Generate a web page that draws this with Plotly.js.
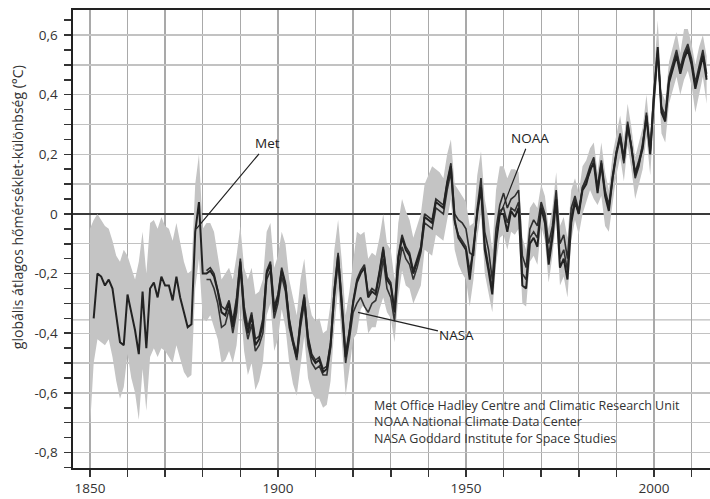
<!DOCTYPE html>
<html>
<head>
<meta charset="utf-8">
<script src="https://cdn.plot.ly/plotly-3.0.1.min.js"></script>
<style>html,body{margin:0;padding:0;background:#fff;}#chart{width:710px;height:499px;}</style>
</head>
<body>
<div id="chart"></div>
<script>
// ---- data ----
const bandStartYear = 1850;
const bandLower = [-0.72,-0.50,-0.42,-0.43,-0.44,-0.42,-0.48,-0.56,-0.62,-0.58,
 -0.47,-0.55,-0.60,-0.69,-0.52,-0.66,-0.48,-0.45,-0.48,-0.45,
 -0.46,-0.48,-0.50,-0.44,-0.49,-0.53,-0.55,-0.54,-0.25,-0.15,
 -0.35,-0.36,-0.34,-0.38,-0.42,-0.50,-0.49,-0.46,-0.50,-0.44,
 -0.30,-0.46,-0.54,-0.50,-0.59,-0.56,-0.50,-0.34,-0.30,-0.46,
 -0.42,-0.32,-0.38,-0.50,-0.57,-0.61,-0.50,-0.41,-0.55,-0.60,
 -0.62,-0.62,-0.65,-0.64,-0.56,-0.38,-0.25,-0.42,-0.61,-0.52,
 -0.42,-0.40,-0.32,-0.30,-0.40,-0.38,-0.38,-0.32,-0.28,-0.33,
 -0.35,-0.43,-0.28,-0.19,-0.24,-0.25,-0.30,-0.27,-0.24,-0.12,
 -0.13,-0.14,-0.07,-0.08,-0.09,-0.02,0.05,-0.12,-0.17,-0.20,
 -0.22,-0.31,-0.22,-0.08,0.00,-0.20,-0.27,-0.33,-0.17,-0.08,
 -0.07,-0.12,-0.06,-0.07,-0.05,-0.30,-0.31,-0.16,-0.14,-0.17,
 -0.04,-0.09,-0.23,-0.14,-0.02,-0.24,-0.21,-0.28,-0.09,-0.02,
 -0.07,0.00,0.04,0.08,0.05,0.03,0.06,-0.04,-0.06,0.03,
 0.13,0.19,0.11,0.23,0.15,0.05,0.10,0.15,0.26,0.13,
 0.33,0.49,0.27,0.24,0.37,0.42,0.46,0.40,0.45,0.48,
 0.43,0.34,0.40,0.46,0.37];
const bandUpper = [-0.05,-0.02,0.00,-0.02,-0.04,-0.05,-0.09,-0.14,-0.16,-0.12,
 -0.14,-0.18,-0.22,-0.16,-0.06,-0.20,-0.03,-0.02,-0.05,-0.01,
 -0.04,-0.05,-0.09,-0.03,-0.10,-0.16,-0.20,-0.19,0.10,0.20,
 -0.05,-0.03,-0.03,-0.06,-0.14,-0.22,-0.20,-0.18,-0.22,-0.14,
 -0.04,-0.18,-0.22,-0.18,-0.27,-0.26,-0.22,-0.06,-0.03,-0.18,
 -0.14,-0.06,-0.10,-0.22,-0.28,-0.34,-0.22,-0.15,-0.28,-0.34,
 -0.36,-0.35,-0.40,-0.39,-0.30,-0.12,-0.02,-0.16,-0.34,-0.26,
 -0.16,-0.06,-0.07,-0.06,-0.15,-0.13,-0.14,-0.08,0.00,-0.10,
 -0.12,-0.22,-0.03,0.05,0.01,-0.02,-0.08,-0.04,0.00,0.10,
 0.13,0.16,0.15,0.14,0.12,0.20,0.25,0.10,0.08,0.06,
 0.04,-0.04,-0.03,0.13,0.21,0.05,-0.02,-0.12,0.08,0.16,
 0.16,0.12,0.15,0.15,0.14,-0.08,-0.12,0.02,0.04,0.02,
 0.10,0.06,-0.05,0.02,0.14,-0.04,-0.01,-0.08,0.08,0.12,
 0.07,0.16,0.18,0.22,0.24,0.14,0.24,0.14,0.08,0.20,
 0.27,0.33,0.25,0.37,0.29,0.19,0.24,0.29,0.40,0.27,
 0.47,0.65,0.41,0.38,0.51,0.56,0.61,0.54,0.62,0.62,
 0.57,0.50,0.56,0.60,0.53];

const metStartYear = 1851;
const metValues = [-0.35,-0.20,-0.21,-0.24,-0.22,-0.25,-0.34,-0.43,-0.44,
 -0.27,-0.33,-0.39,-0.47,-0.26,-0.45,-0.25,-0.23,-0.28,-0.21,
 -0.24,-0.24,-0.29,-0.21,-0.28,-0.33,-0.38,-0.37,-0.06,0.04,
 -0.20,-0.20,-0.19,-0.21,-0.26,-0.33,-0.34,-0.30,-0.38,-0.30,
 -0.16,-0.33,-0.40,-0.34,-0.44,-0.42,-0.37,-0.20,-0.17,-0.33,
 -0.28,-0.19,-0.24,-0.36,-0.43,-0.48,-0.36,-0.28,-0.42,-0.48,
 -0.50,-0.49,-0.53,-0.52,-0.44,-0.26,-0.14,-0.30,-0.48,-0.40,
 -0.30,-0.23,-0.20,-0.18,-0.28,-0.26,-0.27,-0.20,-0.12,-0.22,
 -0.24,-0.33,-0.15,-0.08,-0.12,-0.14,-0.20,-0.16,-0.12,-0.01,
 -0.02,-0.03,0.04,0.03,0.02,0.10,0.16,-0.02,-0.08,-0.10,
 -0.12,-0.22,-0.10,0.00,0.09,-0.12,-0.19,-0.27,-0.10,0.00,
 0.00,-0.06,0.01,-0.01,0.02,-0.24,-0.25,-0.10,-0.08,-0.11,
 0.02,-0.03,-0.17,-0.08,0.05,-0.18,-0.15,-0.22,-0.03,0.04,
 0.00,0.08,0.10,0.15,0.17,0.07,0.17,0.06,0.01,0.12,
 0.20,0.26,0.18,0.30,0.22,0.13,0.17,0.22,0.33,0.20,
 0.40,0.56,0.34,0.31,0.44,0.49,0.53,0.47,0.52,0.55,
 0.50,0.42,0.48,0.53,0.45];

const noaaStartYear = 1881;
const noaaValues = [-0.19,-0.18,-0.20,-0.25,-0.31,-0.32,-0.29,-0.36,-0.28,
 -0.15,-0.31,-0.38,-0.33,-0.42,-0.41,-0.35,-0.19,-0.16,-0.31,
 -0.27,-0.18,-0.23,-0.35,-0.42,-0.47,-0.35,-0.27,-0.41,-0.47,
 -0.49,-0.48,-0.52,-0.51,-0.43,-0.25,-0.13,-0.29,-0.47,-0.39,
 -0.29,-0.22,-0.19,-0.17,-0.27,-0.25,-0.26,-0.19,-0.11,-0.21,
 -0.23,-0.32,-0.14,-0.07,-0.11,-0.13,-0.19,-0.15,-0.11,0.00,
 -0.01,-0.02,0.05,0.04,0.03,0.11,0.17,0.00,-0.02,-0.03,
 -0.05,-0.13,-0.14,0.02,0.12,-0.06,-0.12,-0.22,-0.05,0.03,
 0.07,0.02,0.05,0.06,0.08,-0.14,-0.18,-0.05,-0.02,-0.04,
 0.04,0.00,-0.10,-0.04,0.08,-0.10,-0.07,-0.15,0.02,0.06,
 0.01,0.09,0.12,0.16,0.19,0.09,0.18,0.08,0.03,0.13,
 0.21,0.27,0.19,0.31,0.23,0.14,0.18,0.23,0.34,0.21,
 0.41,0.55,0.35,0.32,0.45,0.50,0.54,0.48,0.53,0.56,
 0.51,0.43,0.49,0.54,0.46];

const nasaStartYear = 1881;
const nasaValues = [-0.22,-0.22,-0.25,-0.30,-0.38,-0.37,-0.32,-0.40,-0.33,
 -0.18,-0.35,-0.42,-0.37,-0.46,-0.44,-0.40,-0.22,-0.19,-0.35,
 -0.30,-0.21,-0.26,-0.38,-0.44,-0.49,-0.38,-0.30,-0.44,-0.50,
 -0.52,-0.51,-0.54,-0.54,-0.45,-0.28,-0.16,-0.32,-0.50,-0.42,
 -0.33,-0.30,-0.28,-0.31,-0.33,-0.30,-0.29,-0.24,-0.15,-0.25,
 -0.28,-0.36,-0.19,-0.11,-0.15,-0.17,-0.22,-0.18,-0.13,-0.03,
 -0.04,-0.05,0.02,0.01,0.00,0.08,0.14,-0.03,-0.07,-0.09,
 -0.11,-0.19,-0.12,0.01,0.08,-0.10,-0.17,-0.25,-0.09,0.01,
 0.02,-0.03,0.02,0.01,0.04,-0.20,-0.22,-0.08,-0.06,-0.08,
 0.03,-0.01,-0.14,-0.06,0.06,-0.15,-0.12,-0.19,-0.01,0.05,
 0.00,0.09,0.11,0.14,0.18,0.08,0.16,0.07,0.02,0.11,
 0.21,0.25,0.17,0.29,0.23,0.12,0.16,0.24,0.32,0.21,
 0.39,0.54,0.36,0.33,0.46,0.51,0.55,0.49,0.54,0.57,
 0.52,0.44,0.50,0.55,0.47];

const xTickYears = [1850, 1900, 1950, 2000];
const yTickLabels = {'-0.8':'-0,8','-0.6':'-0,6','-0.4':'-0,4','-0.2':'-0,2','0':'0','0.2':'0,2','0.4':'0,4','0.6':'0,6'};
const referenceLineValue = -0.355;
const sourceLines = ['Met Office Hadley Centre and Climatic Research Unit',
  'NOAA National Climate Data Center',
  'NASA Goddard Institute for Space Studies'];
const yTitle = 'globális átlagos hőmérséklet-különbség (°C)';

// ---- helpers ----
function yearsFrom(start, n){ const a=[]; for(let i=0;i<n;i++) a.push(start+i); return a; }
const bandYears = yearsFrom(bandStartYear, bandLower.length);

const FONT = '"Open Sans", "DejaVu Sans", sans-serif';

const traces = [
  {x: bandYears, y: bandLower, type:'scatter', mode:'lines', line:{width:0, color:'#c4c4c4'}, hoverinfo:'skip', showlegend:false},
  {x: bandYears, y: bandUpper, type:'scatter', mode:'lines', fill:'tonexty', fillcolor:'#c4c4c4', line:{width:0, color:'#c4c4c4'}, hoverinfo:'skip', showlegend:false},
  {x: yearsFrom(nasaStartYear, nasaValues.length), y: nasaValues, type:'scatter', mode:'lines', name:'NASA', line:{color:'#333', width:1.6}},
  {x: yearsFrom(noaaStartYear, noaaValues.length), y: noaaValues, type:'scatter', mode:'lines', name:'NOAA', line:{color:'#2e2e2e', width:1.6}},
  {x: yearsFrom(metStartYear, metValues.length), y: metValues, type:'scatter', mode:'lines', name:'Met', line:{color:'#222', width:2}}
];

// axis ticks
const xTickVals=[], xTickText=[];
for(let y=1850;y<=2010;y+=10){ xTickVals.push(y); xTickText.push(xTickYears.indexOf(y)>=0 ? String(y) : ''); }
const yTickVals=[], yTickText=[], yMinor=[];
for(let k=-8;k<=6;k++){ const v=k/10; yTickVals.push(v); const key=String(v); yTickText.push(yTickLabels[key]!==undefined?yTickLabels[key]:''); }
for(let k=-17;k<=13;k+=2){ yMinor.push(k/20); }

const layout = {
  width:710, height:499,
  margin:{l:73, r:0, t:10, b:31, pad:0},
  paper_bgcolor:'#fff', plot_bgcolor:'#fff',
  showlegend:false,
  font:{family:FONT, size:13, color:'#333'},
  xaxis:{
    range:[1845.5, 2014.9], tickmode:'array', tickvals:xTickVals, ticktext:xTickText,
    ticks:'outside', ticklen:7, tickwidth:1.5, tickcolor:'#333',
    showgrid:true, gridcolor:'#a9a9a9', gridwidth:1.3,
    showline:true, linecolor:'#222', linewidth:1.6, mirror:true,
    zeroline:false, tickfont:{size:13.5, color:'#333'}
  },
  yaxis:{
    range:[-0.852, 0.684], tickmode:'array', tickvals:yTickVals, ticktext:yTickText,
    ticks:'outside', ticklen:7, tickwidth:1.5, tickcolor:'#333',
    minor:{tickmode:'array', tickvals:yMinor, ticks:'outside', ticklen:7, tickwidth:1.5, tickcolor:'#333', showgrid:false},
    showgrid:true, gridcolor:'#c2c2c2', gridwidth:1.3,
    showline:true, linecolor:'#222', linewidth:1.6, mirror:false,
    zeroline:true, zerolinecolor:'#3a3a3a', zerolinewidth:1.6,
    ticklabelstandoff:4, tickfont:{size:13.5, color:'#333'}
  },
  shapes:[
    {type:'line', xref:'paper', x0:0, x1:1, yref:'y', y0:referenceLineValue, y1:referenceLineValue, line:{color:'#bdbdbd', width:1.3}, layer:'below'}
  ],
  annotations:[
    {xref:'paper', yref:'paper', x:-0.086, y:0.57, text:yTitle, textangle:-90, showarrow:false, font:{size:14, color:'#333'}, xanchor:'center', yanchor:'middle'},
    {x:1878.3, y:-0.05, xref:'x', yref:'y', ax:1897.3, ay:0.237, axref:'x', ayref:'y', text:'Met', showarrow:true, arrowhead:0, arrowwidth:1.2, arrowcolor:'#222', font:{size:13.5, color:'#222'}, standoff:0},
    {x:1958.5, y:-0.02, xref:'x', yref:'y', ax:1967.0, ay:0.254, axref:'x', ayref:'y', text:'NOAA', showarrow:true, arrowhead:0, arrowwidth:1.2, arrowcolor:'#222', font:{size:13.5, color:'#222'}, standoff:0},
    {x:1921.3, y:-0.33, xref:'x', yref:'y', ax:1947.6, ay:-0.407, axref:'x', ayref:'y', text:'NASA', showarrow:true, arrowhead:0, arrowwidth:1.2, arrowcolor:'#222', font:{size:13.5, color:'#222'}, standoff:0},
    {x:1924.9, y:-0.698, xref:'x', yref:'y', text:sourceLines.join('<br>'), showarrow:false, align:'left', xanchor:'left', yanchor:'middle', font:{size:12.5, color:'#333'}}
  ]
};

Plotly.newPlot('chart', traces, layout, {displayModeBar:false, staticPlot:true});
</script>
</body>
</html>
